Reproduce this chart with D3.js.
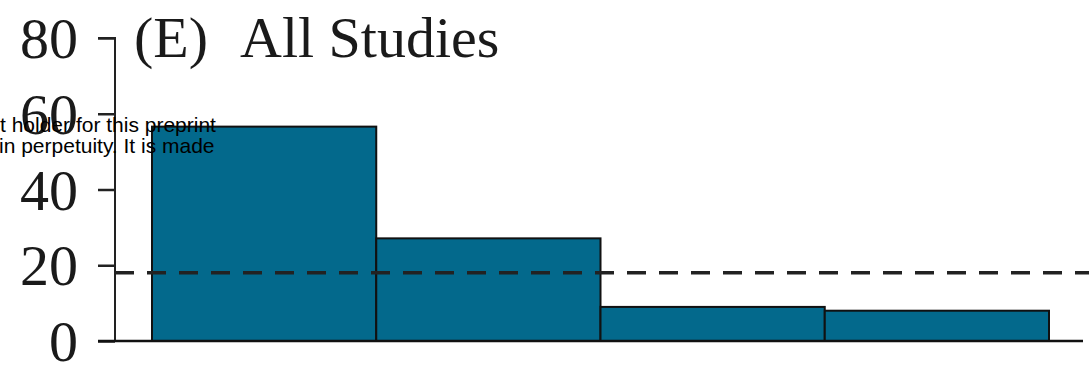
<!DOCTYPE html>
<html>
<head>
<meta charset="utf-8">
<script src="https://cdn.jsdelivr.net/npm/d3@7"></script>
<style>
  html, body { margin: 0; padding: 0; background: #fff; }
  svg { display: block; }
</style>
</head>
<body>
<svg id="chart" width="1089" height="366"></svg>
<script>
// Percentage of studies in each bin
const bins = ["b1", "b2", "b3", "b4"];
const values = [56.6, 27.1, 9.0, 8.0];
const yTicks = [0, 20, 40, 60, 80];
const reference = 18.0;
const titleParts = ["(E)", "All Studies"];
const noteLines = ["t holder for this preprint", "in perpetuity. It is made"];

const svg = d3.select("#chart");
const serif = "'Liberation Serif', 'Times New Roman', serif";

const y = d3.scaleLinear().domain([0, 80]).range([341, 38]);
const x = d3.scaleBand().domain(bins).range([152, 1049]).padding(0);

// Bars
svg.append("g").selectAll("rect").data(values).join("rect")
  .attr("x", (d, i) => x(bins[i]))
  .attr("width", x.bandwidth())
  .attr("y", d => y(d))
  .attr("height", d => y(0) - y(d))
  .attr("fill", "#03698c")
  .attr("stroke", "#111")
  .attr("stroke-width", 2);

// Y axis
const axis = d3.axisLeft(y).tickValues(yTicks).tickSize(17).tickPadding(20);
const gy = svg.append("g").attr("transform", "translate(115,0)").call(axis);
gy.select(".domain").attr("d", `M-17,${y(80)}H0V${y(0)}`).attr("stroke", "#222").attr("stroke-width", 2);
gy.selectAll(".tick line").attr("stroke", "#222").attr("stroke-width", 2.5);
gy.selectAll(".tick text")
  .attr("font-family", serif).attr("font-size", 58).attr("fill", "#1a1a1a")
  .attr("dy", "0.34em");

// Baseline
svg.append("line")
  .attr("x1", 98).attr("x2", 1083)
  .attr("y1", y(0)).attr("y2", y(0))
  .attr("stroke", "#111").attr("stroke-width", 2.5);

// Reference line
svg.append("line")
  .attr("x1", 115).attr("x2", 1089)
  .attr("y1", y(reference)).attr("y2", y(reference))
  .attr("stroke", "#222").attr("stroke-width", 3.5)
  .attr("stroke-dasharray", "19 13");

// Panel title
const t = svg.append("text")
  .attr("y", 57)
  .attr("font-family", serif).attr("font-size", 58).attr("fill", "#1a1a1a");
t.selectAll("tspan").data(titleParts).join("tspan")
  .attr("x", (d, i) => i === 0 ? 134 : 240)
  .text(d => d);

// Overlaid note
svg.append("g").selectAll("text").data(noteLines).join("text")
  .attr("x", (d, i) => i === 0 ? 0 : -1)
  .attr("y", (d, i) => 132 + i * 21)
  .attr("font-family", "'Liberation Sans', Arial, sans-serif")
  .attr("font-size", 21)
  .attr("fill", "#000")
  .text(d => d);
</script>
</body>
</html>
